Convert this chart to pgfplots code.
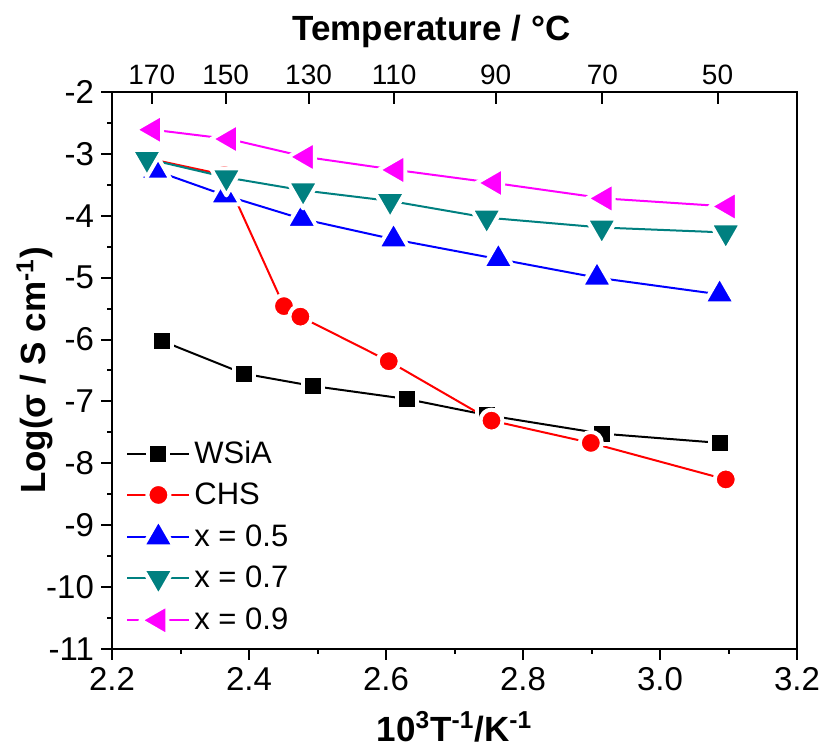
\documentclass[border=0pt]{standalone}
\usepackage{pgfplots}
\pgfplotsset{compat=1.18}
\usepackage{fontspec}
\setmainfont{Liberation Sans}
\definecolor{cteal}{RGB}{0,128,128}
\definecolor{cmag}{RGB}{255,0,255}
\definecolor{cred}{RGB}{255,0,0}
\definecolor{cblue}{RGB}{0,0,255}

\pgfplotsset{
  mk/.style 2 args={mark options={solid, fill=#1, draw=white, line width=2pt, line join=round, rotate=#2}},
}

\begin{document}
\begin{tikzpicture}
\begin{axis}[
  name=main,
  scale only axis,
  width=342.5pt, height=278.5pt,
  xmin=2.2, xmax=3.2, ymin=-11, ymax=-2,
  xtick={2.2,2.4,2.6,2.8,3.0,3.2},
  xticklabels={2.2,2.4,2.6,2.8,3.0,3.2},
  ytick={-11,-10,-9,-8,-7,-6,-5,-4,-3,-2},
  minor x tick num=1, minor y tick num=1,
  xtick pos=bottom, ytick pos=left,
  tick align=outside,
  major tick length=5.5pt, minor tick length=2.5pt,
  axis line style={line width=1pt},
  every tick/.style={black, line width=1pt},
  tick label style={font=\fontsize{16.5}{18}\selectfont},
  /pgf/number format/assume math mode=true,
  xlabel={10\textsuperscript{3}T\textsuperscript{-1}/K\textsuperscript{-1}},
  ylabel={Log(σ / S cm\textsuperscript{-1})},
  label style={font=\fontsize{17.5}{20}\selectfont\bfseries},
  xlabel style={at={([yshift=-39pt]axis description cs:0.5,0)}, anchor=center},
  ylabel style={at={([xshift=-38.5pt]axis description cs:0,0.5)}, anchor=center},
  legend style={at={(axis description cs:0,0)}, anchor=south west,
    xshift=4pt, yshift=4pt, draw=none, fill=none,
    font=\fontsize{15.5}{18}\selectfont, row sep=4pt},
  legend cell align=left,
  legend image code/.code={\draw[mark repeat=2,mark phase=2] plot coordinates {(0pt,0pt)(15.5pt,0pt)(31pt,0pt)};},
  every axis plot/.append style={line width=1pt},
]
\addplot[black, mark=square*, mark size=5pt, mk={black}{0}] coordinates {
  (2.2725,-6.02) (2.392,-6.55) (2.493,-6.75) (2.630,-6.96) (2.747,-7.22) (2.915,-7.52) (3.087,-7.67)
};
\addlegendentry{WSiA}
\addplot[cred, mark=*, mark size=5.5pt, mk={cred}{0}] coordinates {
  (2.255,-3.08) (2.364,-3.34) (2.451,-5.46) (2.475,-5.63) (2.604,-6.35) (2.754,-7.31) (2.899,-7.67) (3.096,-8.26)
};
\addlegendentry{CHS}
\addplot[cblue, mark=triangle*, mark size=9pt, mk={cblue}{0}] coordinates {
  (2.263,-3.27) (2.365,-3.67) (2.477,-4.05) (2.611,-4.38) (2.764,-4.70) (2.908,-5.00) (3.087,-5.27)
};
\addlegendentry{x = 0.5}
\addplot[cteal, mark=triangle*, mark size=9pt, mk={cteal}{180}] coordinates {
  (2.251,-3.08) (2.367,-3.38) (2.479,-3.59) (2.606,-3.76) (2.747,-4.03) (2.915,-4.19) (3.096,-4.27)
};
\addlegendentry{x = 0.7}
\addplot[cmag, mark=triangle*, mark size=9pt, mk={cmag}{90}] coordinates {
  (2.260,-2.61) (2.371,-2.76) (2.483,-3.05) (2.615,-3.26) (2.758,-3.47) (2.919,-3.72) (3.099,-3.85)
};
\addlegendentry{x = 0.9}
\end{axis}

\begin{axis}[
  scale only axis,
  width=342.5pt, height=278.5pt,
  xmin=2.2, xmax=3.2, ymin=-11, ymax=-2,
  axis x line*=top, axis y line*=right,
  axis line style={-, line width=1pt},
  every tick/.style={black, line width=1pt},
  xtick={2.258,2.366,2.487,2.612,2.760,2.916,3.084},
  xticklabels={170,150,130,110,90,70,50},
  ytick=\empty,
  minor ytick={-10.5,-9.5,-8.5,-7.5,-6.5,-5.5,-4.5,-3.5,-2.5},
  tick align=inside,
  major tick length=6pt, minor tick length=3pt,
  tick label style={font=\fontsize{14}{16}\selectfont},
  /pgf/number format/assume math mode=true,
  xlabel={Temperature / °C},
  xlabel style={font=\fontsize{17.5}{20}\selectfont\bfseries,
    at={([xshift=-11.5pt,yshift=30.5pt]axis description cs:0.5,1)}, anchor=center},
]
\end{axis}
\path ([xshift=-56pt,yshift=-47pt]main.south west) rectangle ([xshift=15pt,yshift=46pt]main.north east);
\end{tikzpicture}
\end{document}
